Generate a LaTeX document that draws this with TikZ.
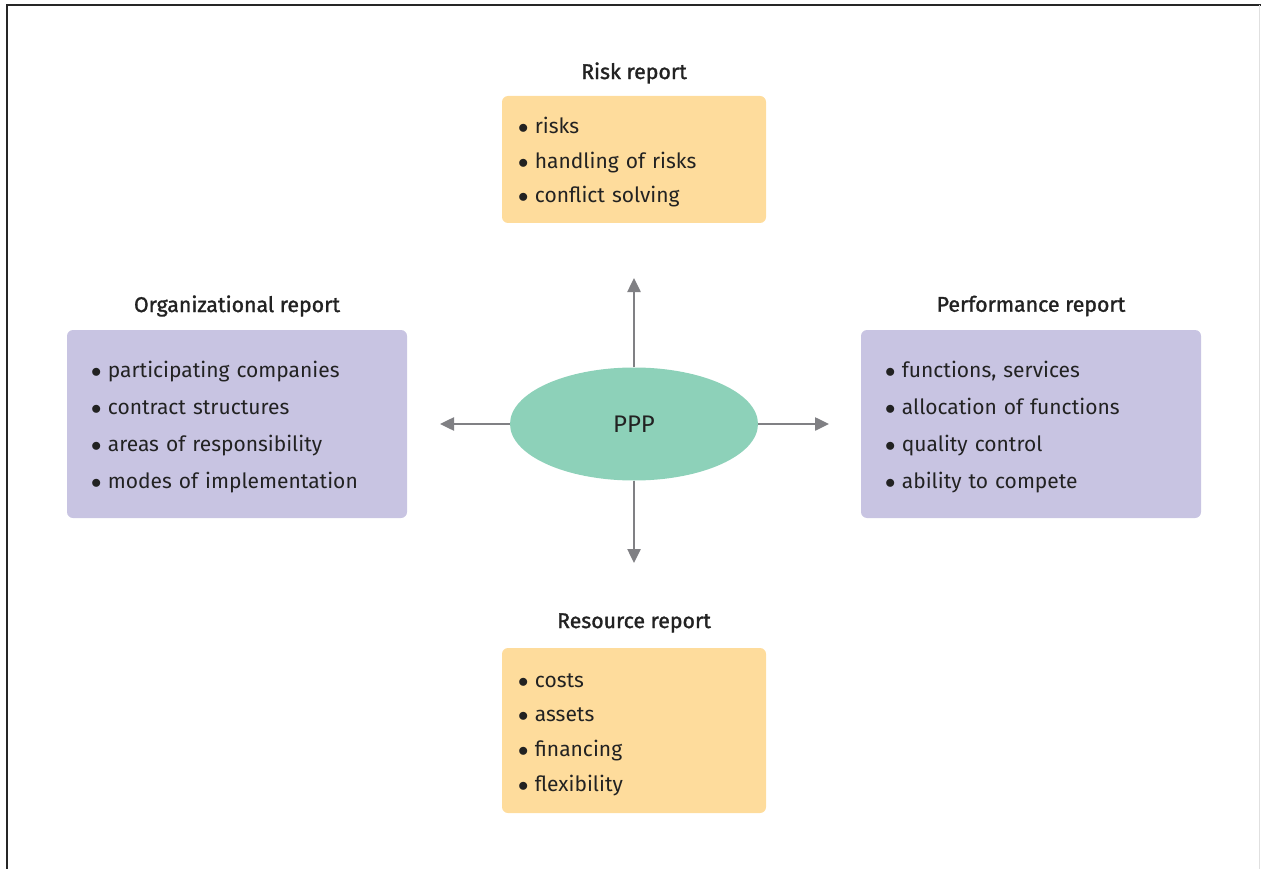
\documentclass[tikz,border=0pt]{standalone}
\usepackage{fontspec}
\setmainfont{Fira Sans}
\usepackage{tikz}
\usetikzlibrary{shapes.geometric, arrows.meta}

\definecolor{riskyellow}{HTML}{FEDC9C}
\definecolor{orgpurple}{HTML}{C8C4E2}
\definecolor{pppgreen}{HTML}{8DD1B9}
\definecolor{arrowgray}{HTML}{808084}
\definecolor{textdark}{HTML}{222222}

% bullet for the report lists
\newcommand{\blt}{$\bullet$\hspace{6.5pt}}
% strut that pushes a list a little down in its box
\newcommand{\toppush}{\rule{0pt}{22pt}}

\begin{document}
\begin{tikzpicture}[x=1pt, y=-1pt]
        % Define the styles for boxes, titles and arrows
        \tikzstyle{titlenode}=[text=textdark, font=\fontsize{21.3}{24}\selectfont\addfontfeature{FakeBold=1.4}]
        \tikzstyle{reportbox}=[rounded corners=6pt, align=left, text=textdark]
        \tikzstyle{yellowbox}=[reportbox, fill=riskyellow, minimum width=264pt, inner xsep=16pt, text width=232pt]
        \tikzstyle{purplebox}=[reportbox, fill=orgpurple, minimum width=340pt, inner xsep=24pt, text width=292pt, minimum height=188pt, font=\fontsize{21}{37}\selectfont]
        \tikzstyle{outarrow}=[draw=arrowgray, line width=2.5pt, -{Triangle[length=14pt, width=13pt]}]

        % Frame and bounding box
        \useasboundingbox (0,0) rectangle (1261,869);
        \draw[line width=2pt, draw=black!85] (7,869) -- (7,5) -- (1261,5);
        \draw[line width=1pt, draw=black!12] (1259.5,5) -- (1259.5,869);

        % Define the centre node
        \node[ellipse, fill=pppgreen, minimum width=248pt, minimum height=113pt, text=textdark, font=\fontsize{24}{28}\selectfont] (ppp) at (634,424) {PPP};

        % Define the report boxes
        \node[yellowbox, minimum height=127pt, font=\fontsize{21}{34.5}\selectfont] (risk) at (634,159.5)
            {\toppush\blt risks\\ \blt handling of risks\\ \blt conflict solving};
        \node[purplebox] (org) at (237,424)
            {\toppush\blt participating companies\\ \blt contract structures\\ \blt areas of responsibility\\ \blt modes of implementation};
        \node[purplebox] (perf) at (1031,424)
            {\toppush\blt functions, services\\ \blt allocation of functions\\ \blt quality control\\ \blt ability to compete};
        \node[yellowbox, minimum height=165pt, font=\fontsize{21}{34.7}\selectfont] (res) at (634,730.5)
            {\toppush\blt costs\\ \blt assets\\ \blt financing\\ \blt flexibility};

        % Define the titles
        \node[titlenode] (risktitle) at (634,73) {Risk report};
        \node[titlenode] (orgtitle) at (237,306) {Organizational report};
        \node[titlenode] (perftitle) at (1031,306) {Performance report};
        \node[titlenode] (restitle) at (634,623) {Resource report};

        % Define the arrow ends
        \coordinate (up) at (634,278);
        \coordinate (down) at (634,563);
        \coordinate (left) at (440,424);
        \coordinate (right) at (829,424);

        % Define the arrows from PPP
        \draw[outarrow] (ppp.north) -- (up);
        \draw[outarrow] (ppp.south) -- (down);
        \draw[outarrow] (ppp.west) -- (left);
        \draw[outarrow] (ppp.east) -- (right);
    \end{tikzpicture}
\end{document}
